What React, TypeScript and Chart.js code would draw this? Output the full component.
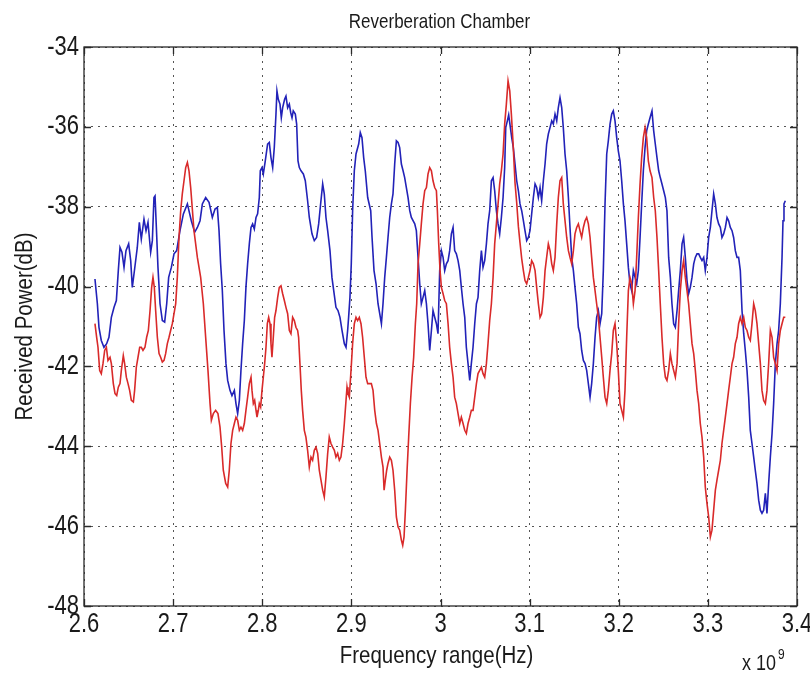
import React, { useEffect, useRef } from "react";
import { Chart, registerables } from "chart.js";

Chart.register(...registerables);

const chartTitle = "Reverberation Chamber";
const xAxisTitle = "Frequency range(Hz)";
const yAxisTitle = "Received Power(dB)";
const xExponent = "9";

const xTicks = [2.6, 2.7, 2.8, 2.9, 3.0, 3.1, 3.2, 3.3, 3.4];
const xTickLabels = ["2.6", "2.7", "2.8", "2.9", "3", "3.1", "3.2", "3.3", "3.4"];
const yTicks = [-34, -36, -38, -40, -42, -44, -46, -48];
const yTickLabels = ["-34", "-36", "-38", "-40", "-42", "-44", "-46", "-48"];

// [frequency (x 1e9 Hz), received power (dB)]
const blueTrace: number[][] = [
  [2.6123,-39.81],[2.6150,-40.43],[2.6168,-41.02],[2.6194,-41.35],[2.6224,-41.52],[2.6254,-41.43],[2.6280,-41.27],[2.6307,-40.77],[2.6337,-40.52],[2.6363,-40.35],[2.6385,-39.60],[2.6404,-39.02],[2.6426,-39.14],[2.6449,-39.52],[2.6471,-39.10],[2.6501,-38.93],[2.6524,-39.35],[2.6542,-40.02],[2.6568,-39.56],[2.6598,-39.02],[2.6621,-38.39],[2.6643,-38.81],[2.6673,-38.31],[2.6696,-38.60],[2.6718,-38.39],[2.6748,-39.14],[2.6767,-38.85],[2.6785,-37.77],[2.6797,-37.73],[2.6812,-38.52],[2.6830,-39.52],[2.6853,-40.43],[2.6879,-40.85],[2.6905,-40.89],[2.6928,-40.43],[2.6950,-39.77],[2.6980,-39.52],[2.7010,-39.18],[2.7040,-39.10],[2.7077,-38.60],[2.7115,-38.18],[2.7160,-37.93],[2.7204,-38.35],[2.7242,-38.64],[2.7272,-38.52],[2.7302,-38.35],[2.7328,-37.93],[2.7365,-37.77],[2.7403,-37.89],[2.7440,-38.27],[2.7470,-38.06],[2.7496,-38.02],[2.7515,-38.60],[2.7533,-39.43],[2.7552,-40.10],[2.7571,-41.10],
  [2.7593,-41.93],[2.7612,-42.35],[2.7638,-42.60],[2.7660,-42.73],[2.7687,-42.60],[2.7705,-42.93],[2.7724,-43.18],[2.7743,-42.85],[2.7761,-42.10],[2.7780,-41.43],[2.7799,-40.85],[2.7817,-40.02],[2.7836,-39.43],[2.7855,-38.93],[2.7874,-38.52],[2.7892,-38.43],[2.7911,-38.56],[2.7930,-38.27],[2.7948,-38.18],[2.7967,-37.77],[2.7978,-37.10],[2.7997,-37.02],[2.8012,-37.18],[2.8034,-36.85],[2.8060,-36.43],[2.8079,-36.39],[2.8098,-36.77],[2.8117,-37.02],[2.8135,-36.52],[2.8154,-35.68],[2.8165,-35.10],[2.8180,-35.31],[2.8199,-35.43],[2.8214,-35.77],[2.8229,-35.52],[2.8251,-35.31],[2.8266,-35.23],[2.8285,-35.52],[2.8304,-35.43],[2.8319,-35.64],[2.8334,-35.77],[2.8348,-35.60],[2.8371,-35.68],[2.8386,-35.93],[2.8401,-36.85],[2.8416,-37.02],[2.8435,-37.10],[2.8461,-37.18],[2.8483,-37.35],[2.8509,-37.85],[2.8528,-38.27],[2.8558,-38.68],[2.8584,-38.85],[2.8610,-38.77],[2.8633,-38.43],[2.8655,-37.93],[2.8678,-37.43],[2.8696,-37.68],[2.8715,-38.27],[2.8734,-38.60],[2.8760,-39.10],[2.8782,-39.77],[2.8797,-40.02],[2.8827,-40.52],[2.8850,-40.60],[2.8872,-40.77],[2.8895,-41.10],[2.8921,-41.43],[2.8940,-41.52],[2.8958,-41.10],[2.8969,-40.77],[2.8984,-40.27],[2.8999,-39.43],[2.9014,-38.10],[2.9033,-37.10],[2.9052,-36.68],[2.9082,-36.43],[2.9100,-36.14],[2.9119,-36.27],[2.9138,-36.77],[2.9156,-37.10],[2.9183,-37.77],
  [2.9217,-38.10],[2.9232,-38.77],[2.9254,-39.60],[2.9277,-39.93],[2.9299,-40.43],[2.9318,-40.68],[2.9337,-40.93],[2.9355,-40.43],[2.9374,-39.77],[2.9393,-39.27],[2.9411,-38.77],[2.9430,-38.27],[2.9449,-37.93],[2.9467,-37.68],[2.9486,-36.93],[2.9505,-36.35],[2.9524,-36.39],[2.9542,-36.52],[2.9561,-36.93],[2.9580,-37.10],[2.9598,-37.27],[2.9617,-37.52],[2.9636,-37.77],[2.9655,-38.10],[2.9673,-38.27],[2.9711,-38.43],[2.9729,-38.60],[2.9748,-39.27],[2.9767,-39.93],[2.9785,-40.43],[2.9804,-40.27],[2.9823,-40.10],[2.9842,-40.43],[2.9860,-40.93],[2.9879,-41.60],[2.9898,-41.10],[2.9916,-40.60],[2.9935,-40.77],[2.9954,-40.93],[2.9972,-41.18],[2.9991,-39.60],[3.0010,-39.10],[3.0029,-39.27],[3.0047,-39.60],[3.0066,-39.43],[3.0085,-39.35],[3.0103,-39.10],[3.0122,-38.68],[3.0141,-38.52],[3.0159,-39.10],[3.0178,-39.18],[3.0197,-39.35],[3.0216,-39.60],[3.0234,-40.02],[3.0253,-40.43],[3.0272,-40.77],[3.0290,-41.52],[3.0309,-41.93],[3.0328,-42.35],[3.0346,-41.93],[3.0365,-41.52],[3.0384,-40.93],[3.0403,-40.43],[3.0421,-40.27],[3.0440,-39.60],[3.0459,-39.10],[3.0477,-39.52],[3.0496,-39.35],[3.0515,-38.93],[3.0533,-38.43],[3.0552,-38.10],[3.0571,-37.35],[3.0590,-37.27],[3.0608,-37.60],[3.0627,-38.10],[3.0646,-38.43],[3.0664,-38.68],[3.0683,-38.27],[3.0702,-37.77],[3.0720,-37.02],[3.0732,-36.02],[3.0750,-35.85],[3.0765,-35.70],
  [3.0799,-36.27],[3.0817,-36.52],[3.0836,-36.93],[3.0855,-37.35],[3.0874,-37.60],[3.0892,-37.93],[3.0911,-38.10],[3.0930,-38.35],[3.0948,-38.60],[3.0967,-38.85],[3.0986,-38.77],[3.1004,-38.60],[3.1023,-38.18],[3.1042,-37.77],[3.1061,-37.43],[3.1079,-37.52],[3.1098,-37.77],[3.1117,-37.52],[3.1135,-37.85],[3.1154,-37.35],[3.1173,-36.93],[3.1191,-36.43],[3.1210,-36.18],[3.1229,-36.02],[3.1248,-35.85],[3.1266,-35.93],[3.1285,-35.68],[3.1304,-35.85],[3.1322,-35.52],[3.1341,-35.27],[3.1360,-35.52],[3.1378,-36.02],[3.1397,-36.68],[3.1416,-37.10],[3.1435,-37.77],[3.1453,-38.52],[3.1472,-39.27],[3.1491,-39.60],[3.1509,-40.02],[3.1528,-40.43],[3.1547,-41.02],[3.1565,-41.18],[3.1584,-41.60],[3.1603,-41.85],[3.1622,-41.93],[3.1640,-42.10],[3.1659,-42.43],[3.1678,-42.77],[3.1696,-42.43],[3.1715,-41.93],[3.1734,-41.27],[3.1752,-40.77],[3.1771,-40.60],[3.1790,-40.93],[3.1809,-40.68],[3.1827,-39.60],[3.1846,-37.93],[3.1865,-36.68],[3.1883,-36.35],[3.1902,-35.93],[3.1921,-35.68],[3.1939,-35.60],[3.1958,-35.85],[3.1977,-36.27],[3.1995,-36.60],[3.2014,-36.85],[3.2033,-37.35],[3.2052,-37.93],[3.2070,-38.35],[3.2089,-38.93],[3.2108,-39.52],[3.2126,-39.93],[3.2145,-40.10],[3.2164,-39.60],[3.2183,-39.77],[3.2201,-39.93],[3.2220,-39.60],[3.2239,-38.77],[3.2257,-37.93],[3.2276,-37.10],[3.2295,-36.52],[3.2313,-36.10],[3.2332,-35.93],[3.2351,-35.77],
  [3.2373,-35.60],[3.2392,-36.10],[3.2410,-36.43],[3.2429,-36.77],[3.2448,-37.10],[3.2466,-37.27],[3.2485,-37.43],[3.2504,-37.60],[3.2523,-37.77],[3.2541,-38.10],[3.2560,-39.27],[3.2579,-39.77],[3.2597,-40.43],[3.2616,-40.93],[3.2635,-41.02],[3.2654,-40.60],[3.2672,-40.10],[3.2691,-39.60],[3.2710,-38.93],[3.2728,-38.77],[3.2747,-39.27],[3.2766,-39.85],[3.2784,-40.18],[3.2803,-40.02],[3.2822,-39.77],[3.2841,-39.43],[3.2859,-39.27],[3.2878,-39.18],[3.2897,-39.18],[3.2915,-39.27],[3.2934,-39.35],[3.2953,-39.27],[3.2971,-39.60],[3.2990,-39.27],[3.3009,-38.77],[3.3028,-38.52],[3.3046,-38.10],[3.3065,-37.68],[3.3084,-37.93],[3.3102,-38.27],[3.3121,-38.43],[3.3140,-38.52],[3.3158,-38.77],[3.3177,-38.68],[3.3196,-38.52],[3.3215,-38.27],[3.3233,-38.35],[3.3252,-38.52],[3.3271,-38.60],[3.3289,-38.77],[3.3308,-39.10],[3.3327,-39.27],[3.3345,-39.27],[3.3364,-39.60],[3.3383,-40.60],[3.3402,-41.18],[3.3420,-41.60],[3.3439,-42.10],[3.3458,-42.77],[3.3476,-43.60],[3.3495,-43.93],[3.3514,-44.27],[3.3532,-44.60],[3.3551,-44.93],[3.3570,-45.35],[3.3589,-45.60],[3.3607,-45.68],[3.3626,-45.60],[3.3645,-45.18],[3.3663,-45.68],[3.3682,-44.93],[3.3701,-44.27],[3.3720,-43.68],[3.3738,-42.93],[3.3757,-41.93],[3.3776,-41.43],[3.3794,-41.10],[3.3813,-40.43],[3.3832,-39.27],[3.3843,-38.35],[3.3854,-37.93],[3.3869,-37.85]
];

const redTrace: number[][] = [
  [2.6123,-40.93],[2.6142,-41.27],[2.6157,-41.52],[2.6176,-42.10],[2.6194,-42.18],[2.6213,-41.93],[2.6232,-41.60],[2.6251,-41.52],[2.6269,-41.85],[2.6292,-41.77],[2.6307,-41.93],[2.6329,-42.43],[2.6348,-42.68],[2.6367,-42.73],[2.6385,-42.52],[2.6404,-42.43],[2.6419,-42.10],[2.6441,-41.73],[2.6456,-41.93],[2.6475,-42.27],[2.6494,-42.43],[2.6512,-42.60],[2.6531,-42.85],[2.6554,-42.89],[2.6568,-42.60],[2.6587,-42.02],[2.6606,-41.77],[2.6625,-41.52],[2.6643,-41.52],[2.6662,-41.60],[2.6684,-41.52],[2.6703,-41.27],[2.6722,-41.10],[2.6741,-40.60],[2.6759,-40.02],[2.6774,-39.77],[2.6789,-40.02],[2.6804,-40.60],[2.6823,-41.27],[2.6842,-41.68],[2.6860,-41.77],[2.6879,-41.89],[2.6898,-41.85],[2.6916,-41.68],[2.6935,-41.43],[2.6954,-41.27],[2.6972,-41.10],[2.6991,-40.93],[2.7029,-40.43],[2.7047,-39.77],[2.7066,-38.77],[2.7085,-38.10],[2.7103,-37.68],[2.7122,-37.35],[2.7141,-37.02],[2.7160,-36.89],[2.7178,-37.10],[2.7197,-37.52],[2.7234,-38.60],[2.7272,-39.27],[2.7309,-39.77],[2.7339,-40.43],[2.7365,-41.27],[2.7391,-42.10],[2.7414,-42.93],[2.7429,-43.35],[2.7451,-43.18],[2.7477,-43.10],[2.7503,-43.18],[2.7526,-43.52],[2.7545,-44.02],[2.7563,-44.60],[2.7590,-44.93],[2.7612,-45.02],[2.7630,-44.60],
  [2.7649,-43.93],[2.7668,-43.60],[2.7687,-43.43],[2.7705,-43.27],[2.7724,-43.35],[2.7743,-43.60],[2.7761,-43.52],[2.7780,-43.60],[2.7799,-43.43],[2.7817,-43.10],[2.7836,-42.77],[2.7855,-42.43],[2.7874,-42.27],[2.7885,-42.60],[2.7900,-42.93],[2.7915,-42.85],[2.7930,-43.10],[2.7941,-43.27],[2.7956,-43.10],[2.7967,-42.93],[2.7982,-43.02],[2.7997,-42.60],[2.8012,-42.27],[2.8027,-41.93],[2.8042,-41.52],[2.8057,-40.93],[2.8072,-40.77],[2.8087,-40.93],[2.8098,-41.43],[2.8109,-41.77],[2.8124,-41.27],[2.8139,-40.77],[2.8154,-40.60],[2.8173,-40.27],[2.8191,-40.02],[2.8210,-39.98],[2.8229,-40.18],[2.8248,-40.35],[2.8266,-40.52],[2.8285,-40.68],[2.8304,-41.10],[2.8322,-41.18],[2.8341,-40.77],[2.8360,-40.85],[2.8378,-41.02],[2.8397,-41.10],[2.8408,-41.27],[2.8423,-41.93],[2.8438,-42.60],[2.8453,-43.10],[2.8472,-43.60],[2.8490,-43.77],[2.8509,-44.10],[2.8528,-44.52],[2.8547,-44.27],[2.8565,-44.35],[2.8584,-44.10],[2.8603,-44.02],[2.8622,-44.18],[2.8640,-44.60],[2.8659,-44.85],[2.8678,-45.10],[2.8696,-45.27],[2.8715,-44.77],[2.8734,-44.18],[2.8752,-43.77],[2.8771,-43.93],[2.8790,-44.02],[2.8809,-44.10],[2.8827,-44.27],[2.8846,-44.18],[2.8865,-44.35],[2.8883,-44.27],[2.8902,-43.93],[2.8921,-43.43],[2.8940,-42.85],[2.8951,-42.52],[2.8962,-42.68],[2.8977,-42.77],[2.8996,-42.10],[2.9014,-41.43],[2.9033,-40.93],[2.9052,-40.77],[2.9070,-40.85],[2.9089,-40.77],[2.9108,-40.93],[2.9126,-41.27],[2.9145,-41.77],[2.9164,-42.27],[2.9183,-42.43],
  [2.9224,-42.43],[2.9243,-42.60],[2.9262,-43.10],[2.9281,-43.43],[2.9299,-43.60],[2.9318,-43.93],[2.9337,-44.27],[2.9355,-44.52],[2.9367,-45.10],[2.9381,-44.85],[2.9396,-44.60],[2.9411,-44.43],[2.9430,-44.27],[2.9449,-44.35],[2.9467,-44.60],[2.9486,-45.10],[2.9505,-45.77],[2.9524,-46.02],[2.9542,-46.10],[2.9561,-46.35],[2.9576,-46.48],[2.9591,-46.27],[2.9606,-45.60],[2.9625,-44.60],[2.9643,-43.77],[2.9662,-42.93],[2.9681,-42.27],[2.9699,-41.77],[2.9718,-40.93],[2.9733,-40.43],[2.9748,-39.43],[2.9767,-38.93],[2.9785,-38.43],[2.9804,-37.93],[2.9823,-37.60],[2.9842,-37.52],[2.9860,-37.18],[2.9879,-37.02],[2.9898,-37.10],[2.9916,-37.35],[2.9935,-37.52],[2.9954,-37.60],[2.9965,-38.10],[2.9980,-38.93],[2.9995,-39.60],[3.0010,-40.02],[3.0029,-40.18],[3.0047,-40.35],[3.0066,-40.43],[3.0085,-40.93],[3.0103,-41.52],[3.0122,-41.93],[3.0141,-42.27],[3.0159,-42.77],[3.0178,-42.93],[3.0197,-43.18],[3.0216,-43.43],[3.0234,-43.27],[3.0253,-43.43],[3.0272,-43.60],[3.0290,-43.68],[3.0309,-43.43],[3.0328,-43.27],[3.0346,-43.10],[3.0365,-43.10],[3.0384,-42.77],[3.0403,-42.43],[3.0421,-42.18],[3.0440,-42.10],[3.0459,-42.02],[3.0477,-42.18],[3.0496,-42.27],[3.0515,-41.93],[3.0533,-41.43],[3.0552,-40.85],[3.0571,-40.43],[3.0590,-39.77],[3.0608,-38.93],[3.0627,-38.43],[3.0646,-37.93],[3.0664,-37.43],[3.0683,-37.10],[3.0702,-36.68],[3.0720,-35.93],[3.0739,-35.43],[3.0758,-34.85],[3.0777,-35.10],[3.0795,-35.68],[3.0814,-36.40],
  [3.0836,-37.40],[3.0855,-37.90],[3.0874,-38.50],[3.0892,-38.90],[3.0911,-39.30],[3.0930,-39.60],[3.0948,-39.85],[3.0967,-39.93],[3.0986,-39.77],[3.1004,-39.60],[3.1023,-39.35],[3.1042,-39.43],[3.1061,-39.60],[3.1079,-40.02],[3.1098,-40.43],[3.1117,-40.77],[3.1135,-40.68],[3.1154,-40.27],[3.1173,-39.60],[3.1191,-39.27],[3.1210,-38.93],[3.1229,-39.10],[3.1248,-39.43],[3.1266,-39.60],[3.1285,-39.27],[3.1304,-38.43],[3.1322,-37.77],[3.1341,-37.35],[3.1360,-37.27],[3.1378,-37.93],[3.1397,-38.35],[3.1416,-38.77],[3.1435,-39.10],[3.1453,-39.27],[3.1472,-39.43],[3.1491,-39.10],[3.1509,-38.68],[3.1528,-38.52],[3.1547,-38.43],[3.1565,-38.60],[3.1584,-38.77],[3.1603,-38.52],[3.1622,-38.35],[3.1640,-38.27],[3.1659,-38.43],[3.1678,-38.77],[3.1696,-39.27],[3.1715,-39.77],[3.1734,-40.10],[3.1752,-40.43],[3.1771,-40.77],[3.1790,-41.27],[3.1809,-41.77],[3.1827,-42.27],[3.1846,-42.77],[3.1865,-42.93],[3.1883,-42.60],[3.1902,-42.10],[3.1921,-41.68],[3.1939,-41.10],[3.1958,-40.93],[3.1977,-41.43],[3.1995,-42.10],[3.2014,-42.93],[3.2033,-43.10],[3.2052,-43.27],[3.2070,-42.60],[3.2089,-41.27],[3.2108,-40.10],[3.2126,-39.77],[3.2145,-39.93],[3.2164,-40.43],[3.2183,-40.10],[3.2201,-39.27],[3.2220,-38.27],[3.2239,-37.43],[3.2257,-36.77],[3.2276,-36.27],[3.2295,-36.02],[3.2313,-36.27],[3.2332,-36.85],[3.2351,-37.10],
  [3.2373,-37.27],[3.2392,-37.77],[3.2410,-38.10],[3.2429,-38.77],[3.2448,-39.60],[3.2466,-40.43],[3.2485,-41.27],[3.2504,-41.93],[3.2523,-42.27],[3.2541,-42.35],[3.2560,-42.10],[3.2579,-41.68],[3.2597,-41.93],[3.2616,-42.10],[3.2635,-42.27],[3.2654,-41.93],[3.2672,-40.93],[3.2691,-40.10],[3.2710,-39.60],[3.2728,-39.35],[3.2747,-39.77],[3.2766,-40.10],[3.2784,-40.43],[3.2803,-40.93],[3.2822,-41.43],[3.2841,-41.68],[3.2859,-42.10],[3.2878,-42.60],[3.2897,-42.93],[3.2915,-43.43],[3.2934,-43.77],[3.2953,-44.27],[3.2971,-45.02],[3.2990,-45.43],[3.3009,-45.77],[3.3028,-46.27],[3.3046,-46.10],[3.3065,-45.60],[3.3084,-45.10],[3.3102,-44.85],[3.3121,-44.60],[3.3140,-44.35],[3.3158,-43.93],[3.3177,-43.60],[3.3196,-43.27],[3.3215,-42.93],[3.3233,-42.60],[3.3252,-42.27],[3.3271,-41.93],[3.3289,-41.77],[3.3308,-41.43],[3.3327,-41.27],[3.3345,-40.93],[3.3364,-40.77],[3.3383,-40.93],[3.3402,-40.77],[3.3420,-41.02],[3.3439,-41.10],[3.3458,-41.27],[3.3476,-41.35],[3.3495,-40.93],[3.3514,-40.43],[3.3532,-40.60],[3.3551,-40.93],[3.3570,-41.43],[3.3589,-41.93],[3.3607,-42.60],[3.3626,-42.85],[3.3645,-42.93],[3.3663,-42.60],[3.3682,-41.93],[3.3701,-41.10],[3.3720,-41.27],[3.3738,-41.77],[3.3757,-41.93],[3.3776,-42.10],[3.3794,-41.43],[3.3813,-41.10],[3.3832,-40.93],[3.3851,-40.77],[3.3869,-40.77]
];

const TEXT_FONT = "'Liberation Sans', Arial, Helvetica, sans-serif";

function drawStretched(
  ctx: CanvasRenderingContext2D,
  text: string,
  x: number,
  y: number,
  size: number,
  stretch: number,
  align: CanvasTextAlign,
  baseline: CanvasTextBaseline,
  rotate = 0
) {
  ctx.save();
  ctx.translate(x, y);
  if (rotate) ctx.rotate(rotate);
  ctx.scale(1, stretch);
  ctx.font = `${size}px ${TEXT_FONT}`;
  ctx.textAlign = align;
  ctx.textBaseline = baseline;
  ctx.fillStyle = "#1a1a1a";
  ctx.fillText(text, 0, 0);
  ctx.restore();
}

const matlabFrame = {
  id: "matlabFrame",
  afterDraw(chart: any) {
    const { ctx, chartArea: a, scales } = chart;
    const xs = scales.x;
    const ys = scales.y;
    ctx.save();
    ctx.strokeStyle = "#2a2a2a";
    ctx.lineWidth = 1.3;
    ctx.strokeRect(a.left, a.top, a.right - a.left, a.bottom - a.top);
    ctx.beginPath();
    const tl = 7;
    xTicks.forEach((v) => {
      const px = Math.round(xs.getPixelForValue(v)) + 0.5;
      ctx.moveTo(px, a.bottom);
      ctx.lineTo(px, a.bottom - tl);
      ctx.moveTo(px, a.top);
      ctx.lineTo(px, a.top + tl);
    });
    yTicks.forEach((v) => {
      const py = Math.round(ys.getPixelForValue(v)) + 0.5;
      ctx.moveTo(a.left, py);
      ctx.lineTo(a.left + tl, py);
      ctx.moveTo(a.right, py);
      ctx.lineTo(a.right - tl, py);
    });
    ctx.stroke();
    ctx.restore();

    xTicks.forEach((v, i) => {
      drawStretched(ctx, xTickLabels[i], xs.getPixelForValue(v), a.bottom + 5, 22, 1.25, "center", "top");
    });
    yTicks.forEach((v, i) => {
      drawStretched(ctx, yTickLabels[i], a.left - 5, ys.getPixelForValue(v), 22, 1.25, "right", "middle");
    });
    const cx = (a.left + a.right) / 2;
    drawStretched(ctx, chartTitle, cx - 1, 28, 17, 1.15, "center", "alphabetic");
    drawStretched(ctx, xAxisTitle, cx - 4, 663, 20.5, 1.15, "center", "alphabetic");
    drawStretched(ctx, yAxisTitle, 32, (a.top + a.bottom) / 2, 20.5, 1.15, "center", "alphabetic", -Math.PI / 2);
    drawStretched(ctx, "x 10", 776, 670, 18, 1.2, "right", "alphabetic");
    drawStretched(ctx, xExponent, 778, 659, 12, 1.2, "left", "alphabetic");
  },
};

export default function App() {
  const canvasRef = useRef<HTMLCanvasElement | null>(null);

  useEffect(() => {
    const canvas = canvasRef.current;
    if (!canvas) return;
    const toPoints = (arr: number[][]) => arr.map(([x, y]) => ({ x, y }));
    const chart = new Chart(canvas, {
      type: "line",
      data: {
        datasets: [
          {
            label: "red",
            data: toPoints(redTrace),
            borderColor: "#d92a2a",
            borderWidth: 1.6,
            pointRadius: 0,
            tension: 0,
            order: 0,
          },
          {
            label: "blue",
            data: toPoints(blueTrace),
            borderColor: "#2222b8",
            borderWidth: 1.6,
            pointRadius: 0,
            tension: 0,
            order: 1,
          },
        ],
      },
      options: {
        responsive: false,
        maintainAspectRatio: false,
        animation: false,
        devicePixelRatio: 1,
        layout: { padding: { left: 0, right: 13, top: 47, bottom: 0 } },
        plugins: {
          legend: { display: false },
          title: { display: false },
          tooltip: { enabled: false },
        },
        scales: {
          x: {
            type: "linear",
            min: 2.6,
            max: 3.4,
            ticks: { display: false, stepSize: 0.1 },
            grid: { color: "#555", lineWidth: 1, drawTicks: false },
            border: { display: false, dash: [2, 5] },
            afterFit: (s: any) => {
              s.height = 68;
            },
          },
          y: {
            type: "linear",
            min: -48,
            max: -34,
            ticks: { display: false, stepSize: 2 },
            grid: { color: "#555", lineWidth: 1, drawTicks: false },
            border: { display: false, dash: [2, 5] },
            afterFit: (s: any) => {
              s.width = 84;
            },
          },
        },
      } as any,
      plugins: [matlabFrame],
    });
    return () => chart.destroy();
  }, []);

  return (
    <div style={{ position: "fixed", left: 0, top: 0, width: 810, height: 674, background: "#fff" }}>
      <canvas ref={canvasRef} width={810} height={674} />
    </div>
  );
}
